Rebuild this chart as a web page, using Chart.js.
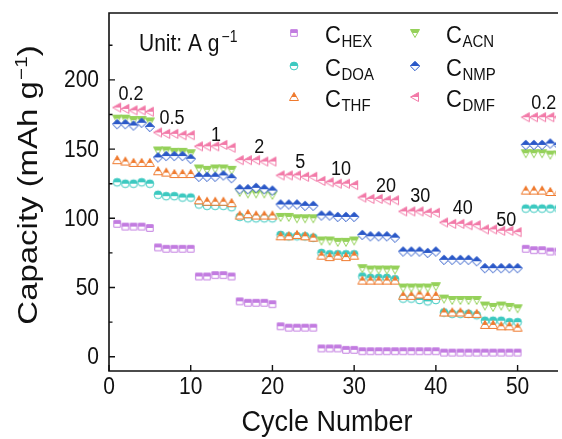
<!DOCTYPE html>
<html>
<head>
<meta charset="utf-8">
<script src="https://cdn.jsdelivr.net/npm/chart.js@4.4.0/dist/chart.umd.min.js"></script>
<style>
  html, body { margin: 0; padding: 0; background: #fff; }
</style>
</head>
<body>
<canvas id="rateChart" width="562" height="439"></canvas>
<script>
// cycle numbers, 5 cycles per current density step
const cycles = Array.from({ length: 55 }, (_, i) => i + 1);

const hex = [96, 94, 94, 94, 93, 79, 78, 78, 78, 78, 58, 58, 59, 59, 58, 40, 39, 39, 39, 38,
  22, 21, 21, 21, 21, 6, 6, 6, 5, 5, 4, 4, 4, 4, 4, 4, 4, 4, 4, 4,
  3, 3, 3, 3, 3, 3, 3, 3, 3, 3, 78, 77, 77, 76, 76];
const doa = [126, 125, 125, 126, 125, 117, 116, 116, 115, 115, 110, 109, 109, 109, 108, 101, 100, 100, 100, 100,
  88, 87, 87, 87, 86, 75, 74, 74, 74, 74, 58, 57, 57, 57, 56, 42, 42, 41, 40, 41,
  32, 31, 31, 31, 30, 26, 26, 26, 25, 25, 107, 107, 107, 107, 107];
const thf = [142, 141, 140, 140, 140, 134, 133, 132, 132, 132, 113, 112, 112, 112, 111, 102, 103, 102, 102, 102,
  87, 87, 88, 87, 86, 73, 72, 73, 72, 73, 55, 55, 55, 55, 55, 44, 44, 45, 44, 44,
  32, 32, 32, 31, 31, 23, 23, 22, 22, 21, 120, 120, 120, 119, 119];
const acn = [172, 172, 171, 171, 170, 149, 149, 148, 148, 147, 136, 135, 136, 136, 135, 119, 118, 118, 118, 117,
  101, 101, 100, 100, 100, 84, 84, 83, 83, 84, 64, 63, 63, 63, 63, 50, 50, 50, 50, 51,
  42, 41, 41, 41, 41, 37, 36, 37, 36, 35, 147, 147, 147, 146, 146];
const nmp = [168, 168, 167, 169, 166, 144, 145, 145, 145, 143, 130, 130, 130, 131, 129, 121, 121, 122, 121, 120,
  110, 110, 110, 109, 109, 102, 102, 101, 101, 101, 88, 87, 87, 87, 86, 76, 76, 76, 75, 76,
  70, 70, 70, 70, 69, 64, 64, 64, 64, 64, 153, 153, 153, 154, 153];
const dmf = [180, 179, 178, 178, 177, 162, 161, 161, 160, 160, 152, 152, 152, 153, 151, 142, 142, 142, 141, 141,
  131, 131, 131, 130, 130, 127, 126, 125, 125, 124, 115, 114, 114, 113, 113, 105, 105, 105, 104, 104,
  97, 96, 96, 95, 95, 92, 92, 91, 91, 90, 173, 173, 173, 173, 173];

const seriesNames = ['HEX', 'DOA', 'THF', 'ACN', 'NMP', 'DMF'];
const xTicks = [0, 10, 20, 30, 40, 50];
const yTicks = [0, 50, 100, 150, 200];
const yMinorTicks = [25, 75, 125, 175, 225];

// current density labels (A g-1) and where they sit in data space
const rateLabels = ['0.2', '0.5', '1', '2', '5', '10', '20', '30', '40', '50', '0.2'];
const rateLabelX = [2.7, 7.7, 13.1, 18.4, 23.4, 28.4, 33.9, 38.1, 43.3, 48.6, 53.2];
const rateLabelY = [185.6, 168.1, 156.1, 147, 136, 131.3, 119.2, 112, 103.1, 94.4, 178.8];

const FONT = '"Liberation Sans", Arial, sans-serif';
const K = 1.12; // lettering in the original is a bit taller than wide

// half filled (top half) Origin style markers
function makeMarker(shape, color) {
  const s = 12, c = document.createElement('canvas');
  c.width = s; c.height = s;
  const g = c.getContext('2d');
  const m = s / 2;
  const path = () => {
    g.beginPath();
    if (shape === 'square') g.rect(m - 3.3, m - 3.3, 6.6, 6.6);
    else if (shape === 'circle') g.arc(m, m, 3.9, 0, Math.PI * 2);
    else if (shape === 'up') { g.moveTo(m, m - 4.5); g.lineTo(m + 4.5, m + 3.5); g.lineTo(m - 4.5, m + 3.5); g.closePath(); }
    else if (shape === 'down') { g.moveTo(m - 4.5, m - 3.5); g.lineTo(m + 4.5, m - 3.5); g.lineTo(m, m + 4.5); g.closePath(); }
    else if (shape === 'diamond') { g.moveTo(m, m - 4.7); g.lineTo(m + 4.7, m); g.lineTo(m, m + 4.7); g.lineTo(m - 4.7, m); g.closePath(); }
    else { g.moveTo(m - 4.5, m); g.lineTo(m + 3.5, m - 4.5); g.lineTo(m + 3.5, m + 4.5); g.closePath(); }
  };
  path(); g.fillStyle = '#fff'; g.fill();
  g.save(); g.beginPath(); g.rect(0, 0, s, m); g.clip();
  path(); g.fillStyle = color; g.fill(); g.restore();
  path(); g.strokeStyle = color; g.lineWidth = 1; g.stroke();
  return c;
}

const colors = ['#c27ce0', '#3cc9c0', '#ef7a2e', '#95d15a', '#2a58c8', '#f27aa8'];
const shapes = ['square', 'circle', 'up', 'down', 'diamond', 'left'];
const markers = shapes.map((s, i) => makeMarker(s, colors[i]));
const values = [hex, doa, thf, acn, nmp, dmf];

function txt(ctx, s, x, y, size, align) {
  ctx.save();
  ctx.translate(x, y);
  ctx.scale(1, K);
  ctx.font = size + 'px ' + FONT;
  ctx.textAlign = align || 'left';
  ctx.textBaseline = 'alphabetic';
  ctx.fillStyle = '#111';
  ctx.fillText(s, 0, 0);
  const w = ctx.measureText(s).width;
  ctx.restore();
  return w;
}

const decorations = {
  id: 'decorations',
  afterDraw(chart) {
    const { ctx, chartArea: a, scales: { x, y } } = chart;
    ctx.save();

    // frame (left, bottom, top)
    ctx.strokeStyle = '#111';
    ctx.lineWidth = 1.6;
    ctx.beginPath();
    ctx.moveTo(a.right + 2, a.top); ctx.lineTo(a.left, a.top);
    ctx.lineTo(a.left, a.bottom); ctx.lineTo(a.right + 2, a.bottom);
    ctx.stroke();

    // inward ticks
    ctx.lineWidth = 1.4;
    ctx.beginPath();
    yTicks.forEach(v => { const p = y.getPixelForValue(v); ctx.moveTo(a.left, p); ctx.lineTo(a.left + 6, p); });
    yMinorTicks.forEach(v => { const p = y.getPixelForValue(v); ctx.moveTo(a.left, p); ctx.lineTo(a.left + 3.5, p); });
    xTicks.forEach(v => { const p = x.getPixelForValue(v); ctx.moveTo(p, a.bottom); ctx.lineTo(p, a.bottom - 6); });
    ctx.stroke();

    // tick labels
    yTicks.forEach(v => txt(ctx, String(v), a.left - 10, y.getPixelForValue(v) + 7.5, 21, 'right'));
    xTicks.forEach(v => txt(ctx, String(v), x.getPixelForValue(v), a.bottom + 23, 21, 'center'));

    // axis titles
    txt(ctx, 'Cycle Number', (a.left + 545) / 2, 431, 27, 'center');
    ctx.save();
    ctx.translate(37, 185);
    ctx.rotate(-Math.PI / 2);
    ctx.scale(1.22, 1);
    ctx.fillStyle = '#111';
    ctx.textBaseline = 'alphabetic';
    const p1 = 'Capacity (mAh g', p3 = ')';
    ctx.font = '17px ' + FONT;
    const w2 = ctx.measureText('\u22121').width;
    ctx.font = '27px ' + FONT;
    const w1 = ctx.measureText(p1).width, w3 = ctx.measureText(p3).width;
    let sx = -(w1 + w2 + w3 + 1) / 2;
    ctx.fillText(p1, sx, 0); sx += w1 + 1;
    ctx.font = '17px ' + FONT; ctx.fillText('\u22121', sx, -10); sx += w2;
    ctx.font = '27px ' + FONT; ctx.fillText(p3, sx, 0);
    ctx.restore();

    // unit note
    const wu = txt(ctx, 'Unit: A g', 139, 51, 21);
    txt(ctx, '\u22121', 139 + wu + 2, 42, 14);

    // rate labels
    rateLabels.forEach((s, i) => txt(ctx, s, x.getPixelForValue(rateLabelX[i]), y.getPixelForValue(rateLabelY[i]), 18, 'center'));

    // legend, two columns
    const legX = [294, 415], legY = [33, 66, 97];
    seriesNames.forEach((n, i) => {
      const col = i < 3 ? 0 : 1, row = i % 3;
      const mk = markers[i];
      ctx.drawImage(mk, legX[col] - mk.width / 2, legY[row] - mk.height / 2);
      const cx = legX[col] + 31, by = legY[row] + 10;
      const wc = txt(ctx, 'C', cx, by, 22);
      txt(ctx, n, cx + wc + 0.5, by + 4, 15);
    });

    ctx.restore();
  }
};

const datasets = values.map((vals, i) => ({
  label: 'C' + seriesNames[i],
  data: cycles.map((c, j) => ({ x: c, y: vals[j] })),
  pointStyle: markers[i],
  pointRadius: 5,
  showLine: false,
  order: 6 - i
}));

new Chart(document.getElementById('rateChart'), {
  type: 'scatter',
  data: { datasets: datasets },
  plugins: [decorations],
  options: {
    responsive: false,
    animation: false,
    layout: { padding: { top: 13, left: 0, right: 0, bottom: 0 } },
    plugins: {
      legend: { display: false },
      tooltip: { enabled: false }
    },
    scales: {
      x: {
        type: 'linear',
        min: 0,
        max: 54.7,
        grid: { display: false },
        border: { display: false },
        ticks: { display: false },
        afterFit: s => { s.height = 68; }
      },
      y: {
        type: 'linear',
        min: -10.3,
        max: 248.3,
        grid: { display: false },
        border: { display: false },
        ticks: { display: false },
        afterFit: s => { s.width = 109; }
      }
    }
  }
});
</script>
</body>
</html>
